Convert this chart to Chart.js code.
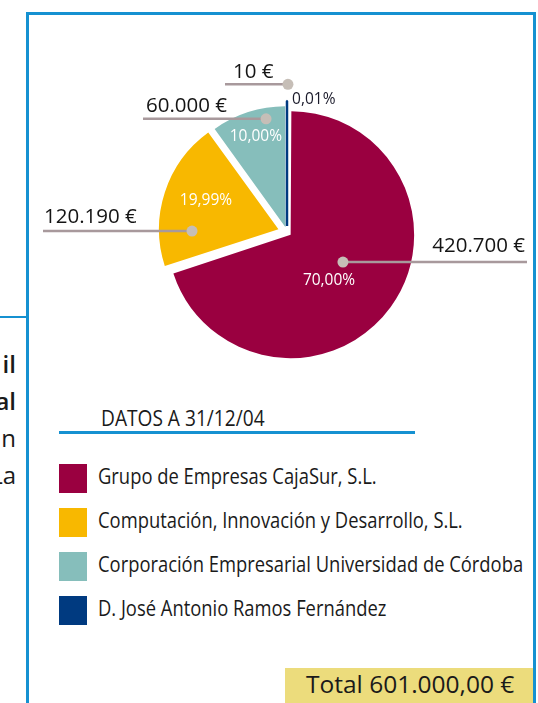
<!DOCTYPE html>
<html>
<head>
<meta charset="utf-8">
<script src="https://cdn.jsdelivr.net/npm/chart.js@4.4.1/dist/chart.umd.min.js"></script>
<style>
html,body{margin:0;padding:0;width:538px;height:703px;overflow:hidden;background:#fff;font-family:"Open Sans",sans-serif;color:#1a1a1a;}
#frame{position:absolute;left:26px;top:12px;width:504px;height:800px;border:3px solid #1591d1;}
#sideLine{position:absolute;left:0;top:316px;width:28px;height:2px;background:#1591d1;}
.frag{position:absolute;right:522px;font-size:24px;line-height:24px;white-space:nowrap;}
#asof{position:absolute;left:101px;font-size:21.5px;line-height:21.5px;white-space:nowrap;transform:scaleX(0.89);transform-origin:left center;}
#asofLine{position:absolute;left:59px;top:431px;width:356px;height:3px;background:#1591d1;}
#legend{position:absolute;left:59px;top:464px;}
.row{position:relative;height:44px;}
.sw{position:absolute;left:0;top:0;width:28px;height:29px;}
.lt{position:absolute;left:39px;font-size:21px;line-height:21px;white-space:nowrap;transform:scaleX(0.875);transform-origin:left center;}
#totalBox{position:absolute;left:285px;top:668px;width:248px;height:40px;background:#ecdc7c;}
#totalTxt{position:absolute;left:306px;font-size:24.5px;line-height:24.5px;white-space:nowrap;}
#c{position:absolute;left:0;top:0;}
</style>
</head>
<body>
<div id="frame"></div>
<div id="sideLine"></div>
<div id="frags"></div>
<div id="asof"></div>
<div id="asofLine"></div>
<div id="legend"></div>
<div id="totalBox"></div>
<div id="totalTxt"></div>
<canvas id="c" width="538" height="703"></canvas>
<script>
// ---- data ----
const categories = [
  "Grupo de Empresas CajaSur, S.L.",
  "Computación, Innovación y Desarrollo, S.L.",
  "Corporación Empresarial Universidad de Córdoba",
  "D. José Antonio Ramos Fernández"
];
const amounts = [420700, 120190, 60000, 10];
const percentLabels = ["70,00%", "19,99%", "10,00%", "0,01%"];
const sliceColors = ["#9a0040", "#f8b800", "#86bebb", "#003a80"];
const asOfLabel = "DATOS A 31/12/04";
const totalLabel = "Total 601.000,00 €";
const sideFragments = ["il", "al", "n", "La"];

// ---- html parts ----
function baselineTop(baseline, size){ return baseline - 0.888*size; }
const frags = document.getElementById('frags');
const fragBase = [373, 410, 447, 484];
sideFragments.forEach((t,i)=>{
  const d=document.createElement('div'); d.className='frag'; d.textContent=t;
  d.style.top = baselineTop(fragBase[i],24)+'px';
  if(i<2) d.style.fontWeight='600';
  frags.appendChild(d);
});
const asof=document.getElementById('asof'); asof.textContent=asOfLabel; asof.style.top=baselineTop(426,21.5)+'px';
const tt=document.getElementById('totalTxt'); tt.textContent=totalLabel; tt.style.top=baselineTop(694,24.5)+'px';
const legend=document.getElementById('legend');
categories.forEach((c,i)=>{
  const r=document.createElement('div'); r.className='row';
  const s=document.createElement('div'); s.className='sw'; s.style.background=sliceColors[i];
  const t=document.createElement('div'); t.className='lt'; t.textContent=c; t.style.top=(20.3-0.888*21)+'px';
  r.appendChild(s); r.appendChild(t); legend.appendChild(r);
});

function fmtEuro(v){ return String(v).replace(/\B(?=(\d{3})+(?!\d))/g,'.') + ' €'; }

// ---- callouts plugin (positions derived from arc geometry) ----
const calloutSpec = [
  {dotA:117,   dotR:0.459, lineEnd:527, align:'right', tdx:-2, tdy:-10, pA:141.5, pR:0.469, pAlign:'center', pColor:'#ffffff'},
  {dotA:268.7, dotR:0.723, lineEnd:43,  align:'left',  tdx:1,  tdy:-8,  pA:291.3, pR:0.65,  pAlign:'center', pColor:'#ffffff'},
  {dotA:350,   dotR:0.908, lineEnd:143, align:'left',  tdx:3,  tdy:-7,  pA:342,   pR:0.788, pAlign:'center', pColor:'#ffffff'},
  {dotA:0.4,   dotR:1.14,  lineEnd:225, align:'left',  tdx:8,  tdy:-6,  pA:2.4,   pR:1.01,  pAlign:'left',   pColor:'#1a1a2a'}
];
const callouts = {
  id:'callouts',
  afterDatasetsDraw(chart){
    const ctx=chart.ctx; const meta=chart.getDatasetMeta(0);
    meta.data.forEach((el,i)=>{
      const sp=calloutSpec[i];
      const p=el.getProps(['x','y','startAngle','endAngle','outerRadius'],true);
      const off=el.options.offset||0; const circ=p.endAngle-p.startAngle;
      const fix=1-Math.sin(Math.min(Math.PI,circ)); const t=off/4*(1+fix);
      const half=(p.startAngle+p.endAngle)/2;
      const vx=p.x+Math.cos(half)*t, vy=p.y+Math.sin(half)*t;
      const pt=(deg,fr)=>{const a=(deg-90)*Math.PI/180; return [vx+Math.cos(a)*fr*p.outerRadius, vy+Math.sin(a)*fr*p.outerRadius];};
      const [dx,dy]=pt(sp.dotA,sp.dotR);
      ctx.save();
      ctx.strokeStyle='#a8999c'; ctx.lineWidth=2.5;
      ctx.beginPath(); ctx.moveTo(dx,dy); ctx.lineTo(sp.lineEnd,dy); ctx.stroke();
      ctx.fillStyle='#c6beb7'; ctx.beginPath(); ctx.arc(dx,dy,5.5,0,Math.PI*2); ctx.fill();
      ctx.fillStyle='#141414'; ctx.font='500 20.5px "Open Sans"'; ctx.textBaseline='alphabetic';
      ctx.textAlign=sp.align;
      ctx.fillText(fmtEuro(amounts[i]), sp.lineEnd+sp.tdx, dy+sp.tdy);
      const [px,py]=pt(sp.pA,sp.pR);
      ctx.fillStyle=sp.pColor; ctx.font=(i===3?'15.5px':'15.5px')+' "Open Sans"'; ctx.textAlign=sp.pAlign; ctx.textBaseline='middle';
      ctx.fillText(percentLabels[i],px,py);
      ctx.restore();
    });
  }
};

new Chart(document.getElementById('c'),{
  type:'pie',
  data:{labels:categories,datasets:[{
    data:amounts,
    backgroundColor:sliceColors,
    borderColor:sliceColors,
    borderWidth:[0,0,0,2.5],
    offset:[18,36,20,24]
  }]},
  options:{
    responsive:false, animation:false, radius:119,
    layout:{padding:{left:100,right:64,top:82,bottom:321}},
    events:[],
    plugins:{legend:{display:false},tooltip:{enabled:false}}
  },
  plugins:[callouts]
});
</script>
</body>
</html>
